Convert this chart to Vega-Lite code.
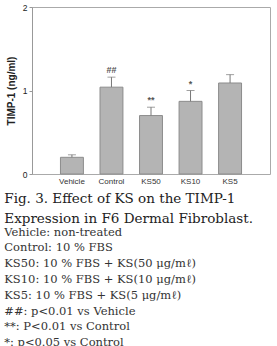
{
  "$schema": "https://vega.github.io/schema/vega-lite/v6.json",
  "width": 238,
  "height": 167,
  "padding": {"left": 4, "top": 3, "right": 9, "bottom": 0},
  "background": "white",
  "title": {
    "text": ["Fig. 3. Effect of KS on the TIMP-1", "Expression in F6 Dermal Fibroblast."],
    "subtitle": ["Vehicle: non-treated", "Control: 10 % FBS", "KS50: 10 % FBS + KS(50 μg/mℓ)", "KS10: 10 % FBS + KS(10 μg/mℓ)", "KS5: 10 % FBS + KS(5 μg/mℓ)", "##: p<0.01 vs Vehicle", "**: P<0.01 vs Control", "*: p<0.05 vs Control"],
    "orient": "bottom",
    "anchor": "start",
    "frame": "bounds",
    "dx": -2,
    "font": "DejaVu Serif",
    "fontSize": 13.5,
    "fontWeight": "normal",
    "color": "#222",
    "lineHeight": 20,
    "subtitleFont": "DejaVu Serif",
    "subtitleFontSize": 11.5,
    "subtitleColor": "#333",
    "subtitleLineHeight": 15.8,
    "subtitlePadding": 1,
    "offset": 7
  },
  "data": {
    "values": [
      {"group": "Vehicle", "value": 0.2, "upper": 0.23, "sig": ""},
      {"group": "Control", "value": 1.04, "upper": 1.16, "sig": "##"},
      {"group": "KS50", "value": 0.7, "upper": 0.8, "sig": "**"},
      {"group": "KS10", "value": 0.87, "upper": 1.0, "sig": "*"},
      {"group": "KS5", "value": 1.09, "upper": 1.19, "sig": ""}
    ]
  },
  "encoding": {
    "x": {
      "field": "group",
      "type": "nominal",
      "sort": null,
      "scale": {"paddingInner": 0.42, "paddingOuter": 0.72},
      "axis": {"title": null, "labelAngle": 0, "ticks": false, "domain": false, "labelFont": "Liberation Sans", "labelFontSize": 8, "labelColor": "#333", "labelPadding": 3}
    },
    "y": {
      "type": "quantitative",
      "scale": {"domain": [0, 2]},
      "axis": {"values": [0, 1, 2], "format": ".0f", "grid": false, "title": "TIMP-1 (ng/ml)", "titleFont": "Liberation Sans", "titleFontSize": 10, "titleFontWeight": "bold", "titleColor": "#222", "titlePadding": 6, "labelFont": "Liberation Sans", "labelFontSize": 8.5, "labelColor": "#222", "labelOverlap": false, "labelFlush": false, "domainColor": "#999", "tickColor": "#999", "tickSize": 3}
    }
  },
  "layer": [
    {
      "mark": {"type": "bar", "fill": "#b4b4b4", "stroke": "#8c8c8c", "strokeWidth": 1},
      "encoding": {"y": {"field": "value", "type": "quantitative"}}
    },
    {
      "mark": {"type": "rule", "color": "#777", "strokeWidth": 1},
      "encoding": {"y": {"field": "value", "type": "quantitative"}, "y2": {"field": "upper"}}
    },
    {
      "mark": {"type": "tick", "color": "#777", "thickness": 1, "size": 8, "orient": "horizontal"},
      "encoding": {"y": {"field": "upper", "type": "quantitative"}}
    },
    {
      "mark": {"type": "text", "dy": -7, "font": "Liberation Sans", "fontSize": 9, "fontWeight": "bold", "color": "#555"},
      "encoding": {"y": {"field": "upper", "type": "quantitative"}, "text": {"field": "sig"}}
    }
  ],
  "config": {"view": {"stroke": "#aaa"}}
}
